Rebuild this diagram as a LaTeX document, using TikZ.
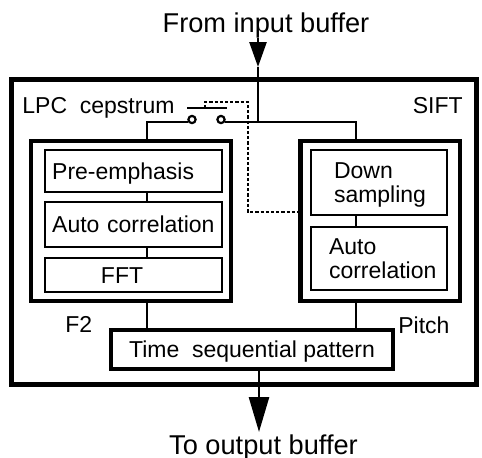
\documentclass[tikz,border=0pt]{standalone}
\usepackage{fontspec}
\setmainfont{Liberation Sans}
\usetikzlibrary{arrows.meta}
\begin{document}
\begin{tikzpicture}[x=0.5pt,y=-0.5pt,
  every node/.style={font=\fontsize{11.5pt}{12pt}\selectfont},
  big/.style={font=\fontsize{13.6pt}{15pt}\selectfont},
  obox/.style={draw,line width=2.5pt,rectangle,inner sep=0pt},
  blk/.style={draw,line width=2.2pt,rectangle,inner sep=0pt},
  ibox/.style={draw,line width=1.2pt,rectangle,inner sep=0pt,align=left,text height=8.2pt,text depth=0pt},
  two/.style={text depth=12pt},
  tspbox/.style={draw,line width=1.7pt,rectangle,inner sep=0pt,text height=8.2pt,text depth=0pt},
  lbl/.style={inner sep=0pt},
  conn/.style={line width=1pt},
  mainline/.style={line width=1.3pt},
  dsh/.style={line width=0.9pt,dash pattern=on 1.6pt off 1pt},
  contact/.style={circle,draw,line width=1.1pt,minimum size=3.6pt,inner sep=0pt,fill=white}
]
\useasboundingbox (0,0) rectangle (482,457);

% outer SIFT box
\node[obox,minimum width=232.5pt,minimum height=152.5pt] (sift) at (243.5,231.5) {};

% left block
\node[blk,minimum width=100pt,minimum height=80pt] (lblk) at (131,221) {};
\node[ibox,text width=88.5pt,minimum height=21pt] (pre) at (133.5,171) {\hspace*{3.6pt}Pre-emphasis};
\node[ibox,text width=88.5pt,minimum height=22.5pt] (acl) at (133.5,224.5) {\hspace*{3.6pt}Auto correlation};
\node[ibox,text width=88.5pt,minimum height=17pt] (fft) at (133.5,275) {\hspace*{28pt}FFT};

% right block
\node[blk,minimum width=79.75pt,minimum height=80pt] (rblk) at (380.25,221) {};
\node[ibox,two,text width=68pt,minimum height=32.5pt] (down) at (379,182.5) {\hspace*{11.5pt}Down\\\hspace*{11.5pt}sampling};
\node[ibox,two,text width=68pt,minimum height=31.5pt] (acr) at (379,258.5) {\hspace*{9pt}Auto\\\hspace*{9pt}correlation};

% time sequential pattern
\node[tspbox,minimum width=141pt,minimum height=19.5pt] (tsp) at (252,349.5) {Time\ \ sequential pattern};

% labels
\node[lbl,anchor=base west] (lpc) at (22,113) {LPC\ \ cepstrum};
\node[lbl,anchor=base east] (siftlbl) at (463,113) {SIFT};
\node[lbl,anchor=base west] (f2) at (65,332) {F2};
\node[lbl,anchor=base west] (pitch) at (398,333) {Pitch};
\node[lbl,big,anchor=base] (inlbl) at (266,32) {From input buffer};
\node[lbl,big,anchor=base] (outlbl) at (263.5,454) {To output buffer};

% coordinates
\coordinate (lx) at (147,0);
\coordinate (rx) at (356,0);
\coordinate (inTop) at (258,38);
\coordinate (inTip) at (258,67);
\coordinate (outTip) at (259,432);
\coordinate (lv1) at (187,108);
\coordinate (lv2) at (227,108);
\coordinate (d0) at (205,108);
\coordinate (d1) at (205,102);
\coordinate (d2) at (248,102);
\coordinate (d3) at (248,212);

% switch contacts
\node[contact] (c1) at (192,119.5) {};
\node[contact] (c2) at (221,119.5) {};

% input / output arrows
\draw[mainline,-{Triangle[width=8.5pt,length=12.5pt]}] (inTop) -- (inTip);
\draw[mainline] (inTip) -- (inTip |- c2.330);
\draw[mainline,-{Triangle[width=10pt,length=17.5pt]}] (outTip |- tsp.south) -- (outTip);

% connectors
\draw[conn] (c1.210) -| (lblk.north -| lx);
\draw[conn] (c2.330) -| (rblk.north -| rx);
\draw[conn] (pre.south -| lx) -- (acl.north -| lx);
\draw[conn] (acl.south -| lx) -- (fft.north -| lx);
\draw[conn] (lblk.south -| lx) -- (tsp.north -| lx);
\draw[conn] (down.south -| rx) -- (acr.north -| rx);
\draw[conn] (rblk.south -| rx) -- (tsp.north -| rx);

% switch lever and dashed control
\draw[conn] (lv1) -- (lv2);
\draw[dsh] (d0) -- (d1) -- (d2) -- (d3) -- (rblk.west |- d3);
\end{tikzpicture}
\end{document}
